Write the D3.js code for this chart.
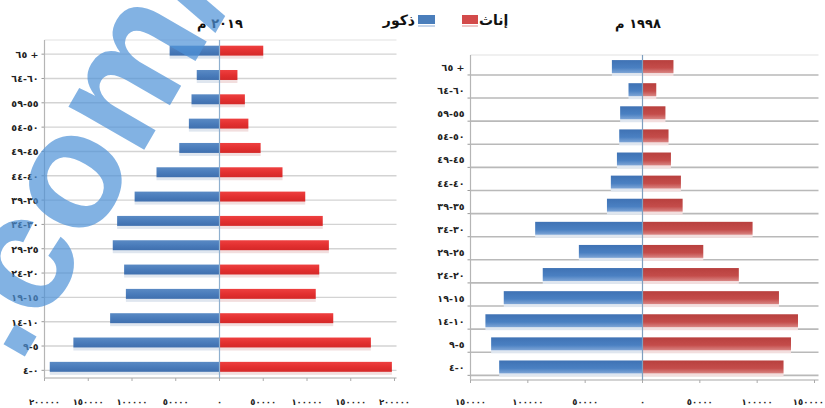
<!DOCTYPE html>
<html><head><meta charset="utf-8">
<script src="https://cdn.jsdelivr.net/npm/d3@7"></script>
<style>
html,body{margin:0;padding:0;background:#fff;}
svg{display:block;}
text{font-family:"DejaVu Sans",sans-serif;}
</style></head>
<body><svg id="c" width="825" height="408"></svg>
<script>
// ---- data ----
const ages = ["٦٥ +","٦٠-٦٤","٥٥-٥٩","٥٠-٥٤","٤٥-٤٩","٤٠-٤٤","٣٥-٣٩","٣٠-٣٤","٢٥-٢٩","٢٠-٢٤","١٥-١٩","١٠-١٤","٥-٩","٠-٤"];
const males2019   = [57000, 26000, 32000, 35000, 46000, 72000, 97000, 117000, 122000, 109000, 107000, 125000, 167000, 194000];
const females2019 = [50000, 20500, 29000, 33000, 47000, 72000, 98000, 118000, 125000, 114000, 110000, 130000, 173000, 197000];
const males1998   = [26700, 12200, 19500, 20300, 22300, 27600, 31000, 93600, 55500, 87000, 121000, 137000, 132000, 125000];
const females1998 = [27000, 12000, 20000, 22700, 24800, 33500, 35000, 96000, 53000, 84000, 119000, 135600, 129500, 123000];
const ticks2019 = [-200000,-150000,-100000,-50000,0,50000,100000,150000,200000];
const ticks1998 = [-150000,-100000,-50000,0,50000,100000,150000];
const titles = ["٢٠١٩ م","١٩٩٨ م"];
const legendLabels = ["ذكور","إناث"];

const arabicDigits = "٠١٢٣٤٥٦٧٨٩";
const fmt = v => String(Math.abs(v)).replace(/[0-9]/g, d => arabicDigits[+d]);

const svg = d3.select("#c");
const defs = svg.append("defs");
function grad(id, stops){
  const g = defs.append("linearGradient").attr("id",id).attr("x1",0).attr("y1",0).attr("x2",0).attr("y2",1);
  stops.forEach(s=>g.append("stop").attr("offset",s[0]).attr("stop-color",s[1]));
}
grad("blueL",[[0,"#5a8ac4"],[0.5,"#4a7cbb"],[1,"#3f6fae"]]);
grad("redL",[[0,"#ee4040"],[0.5,"#e33030"],[1,"#d42828"]]);
grad("blueR",[[0,"#3f72b4"],[0.6,"#4a80c2"],[1,"#7ea5d6"]]);
grad("redR",[[0,"#b8403e"],[0.6,"#c44c4a"],[1,"#d98583"]]);

function pyramid(cfg){
  const g = svg.append("g");
  const x = d3.scaleLinear().domain(cfg.domain).range(cfg.xr);
  const y = d3.scaleBand().domain(ages).range(cfg.yr).paddingInner(cfg.pad).paddingOuter(cfg.pad/2);
  const x0 = x(0);
  const bh = y.bandwidth();
  const cy = d => y(d) + bh/2;
  g.append("line").attr("x1",cfg.xr[0]).attr("x2",cfg.xr[1]+cfg.gx).attr("y1",cfg.top).attr("y2",cfg.top)
    .attr("stroke","#e2e2e2").attr("stroke-width",1.2);
  g.selectAll("line.grid").data(ages).join("line").attr("class","grid")
    .attr("x1",cfg.xr[0]).attr("x2",cfg.xr[1]+cfg.gx)
    .attr("y1",d=>cy(d)+cfg.goff).attr("y2",d=>cy(d)+cfg.goff)
    .attr("stroke",cfg.gridColor).attr("stroke-width",cfg.gridW);
  g.selectAll("line.yt").data(ages).join("line").attr("class","yt")
    .attr("x1",cfg.xr[0]-3).attr("x2",cfg.xr[0])
    .attr("y1",d=>cy(d)+cfg.goff).attr("y2",d=>cy(d)+cfg.goff)
    .attr("stroke","#999").attr("stroke-width",1);
  g.append("line").attr("x1",cfg.xr[0]).attr("x2",cfg.xr[0]).attr("y1",cfg.top).attr("y2",cfg.bottom)
    .attr("stroke","#b5b5b5").attr("stroke-width",1.2);
  g.append("line").attr("x1",cfg.xr[0]).attr("x2",cfg.xr[1]+cfg.gx).attr("y1",cfg.bottom).attr("y2",cfg.bottom)
    .attr("stroke","#c5c5c5").attr("stroke-width",1.5);
  g.selectAll("line.xt").data(cfg.ticks).join("line").attr("class","xt")
    .attr("x1",d=>x(d)).attr("x2",d=>x(d)).attr("y1",cfg.bottom).attr("y2",cfg.bottom+3)
    .attr("stroke","#aaa");
  g.selectAll("rect.shm").data(ages).join("rect").attr("class","shm")
    .attr("x",(d,i)=>x(-cfg.m[i])).attr("width",(d,i)=>x0-x(-cfg.m[i]))
    .attr("y",d=>y(d)+bh).attr("height",3).attr("fill","#dfe6ef");
  g.selectAll("rect.shf").data(ages).join("rect").attr("class","shf")
    .attr("x",x0).attr("width",(d,i)=>x(cfg.f[i])-x0)
    .attr("y",d=>y(d)+bh).attr("height",3).attr("fill","#f2dede");
  g.selectAll("rect.m").data(ages).join("rect").attr("class","m")
    .attr("x",(d,i)=>x(-cfg.m[i])).attr("width",(d,i)=>x0-x(-cfg.m[i]))
    .attr("y",d=>y(d)).attr("height",bh).attr("fill",`url(#${cfg.blue})`);
  g.selectAll("rect.f").data(ages).join("rect").attr("class","f")
    .attr("x",x0).attr("width",(d,i)=>x(cfg.f[i])-x0)
    .attr("y",d=>y(d)).attr("height",bh).attr("fill",`url(#${cfg.red})`);
  g.append("line").attr("x1",x0).attr("x2",x0).attr("y1",cfg.top).attr("y2",cfg.bottom)
    .attr("stroke",cfg.centerColor).attr("stroke-width",1.2);
  g.selectAll("text.yl").data(ages).join("text").attr("class","yl")
    .attr("x",cfg.xr[0]-6).attr("y",d=>cy(d)+cfg.loff+3.5)
    .attr("text-anchor","end").attr("font-size",9.5).attr("font-weight","bold").attr("fill","#222")
    .text(d=>d);
  const last = cfg.ticks[cfg.ticks.length-1];
  g.selectAll("text.xl").data(cfg.ticks).join("text").attr("class","xl")
    .attr("x",d=> (cfg.clipLast && d===last) ? 824 : x(d)).attr("y",405)
    .attr("text-anchor",d=> (cfg.clipLast && d===last) ? "end" : "middle")
    .attr("font-size",8.5).attr("font-weight","bold").attr("fill","#222").text(fmt);
  g.append("text").attr("x",cfg.titleX).attr("y",28).attr("text-anchor","middle")
    .attr("font-size",13).attr("font-weight","bold").attr("fill","#111").text(cfg.title);
}

pyramid({domain:[-200000,200000], xr:[44.5,394.5], yr:[38.5,379], pad:0.59, top:40, bottom:378,
  gx:2, goff:3.5, loff:4, gridColor:"#d3d3d3", gridW:1.4, m:males2019, f:females2019, ticks:ticks2019,
  blue:"blueL", red:"redL", centerColor:"#8fb0cf", titleX:220, title:titles[0], clipLast:false});
pyramid({domain:[-150000,150000], xr:[470.5,814.5], yr:[55,378.5], pad:0.44, top:55, bottom:380,
  gx:4, goff:8.4, loff:1, gridColor:"#b9b9b9", gridW:1.6, m:males1998, f:females1998, ticks:ticks1998,
  blue:"blueR", red:"redR", centerColor:"#7f9fbf", titleX:638, title:titles[1], clipLast:true});

// legend
const lg = svg.append("g");
lg.append("text").attr("x",415).attr("y",25).attr("text-anchor","end").attr("font-size",14)
  .attr("font-weight","bold").attr("fill","#111").text(legendLabels[0]);
lg.append("rect").attr("x",418).attr("y",15).attr("width",17).attr("height",9).attr("fill","#4a7ebb");
lg.append("rect").attr("x",418).attr("y",25).attr("width",17).attr("height",2).attr("fill","#c7d6ea");
lg.append("rect").attr("x",462).attr("y",15).attr("width",16).attr("height",9).attr("fill","#d34a4a");
lg.append("rect").attr("x",462).attr("y",25).attr("width",16).attr("height",2).attr("fill","#eec8c8");
lg.append("text").attr("x",479).attr("y",25).attr("text-anchor","start").attr("font-size",14)
  .attr("font-weight","bold").attr("fill","#111").text(legendLabels[1]);

// watermark
svg.append("text").attr("transform","translate(76,182) rotate(-60)")
  .attr("x",-188).attr("y",43)
  .style("font-family","'Liberation Sans',Arial,sans-serif").attr("font-weight","bold").attr("font-size",165)
  .attr("fill","#4e92d8").attr("opacity",0.7).text(".com/");
</script></body></html>
